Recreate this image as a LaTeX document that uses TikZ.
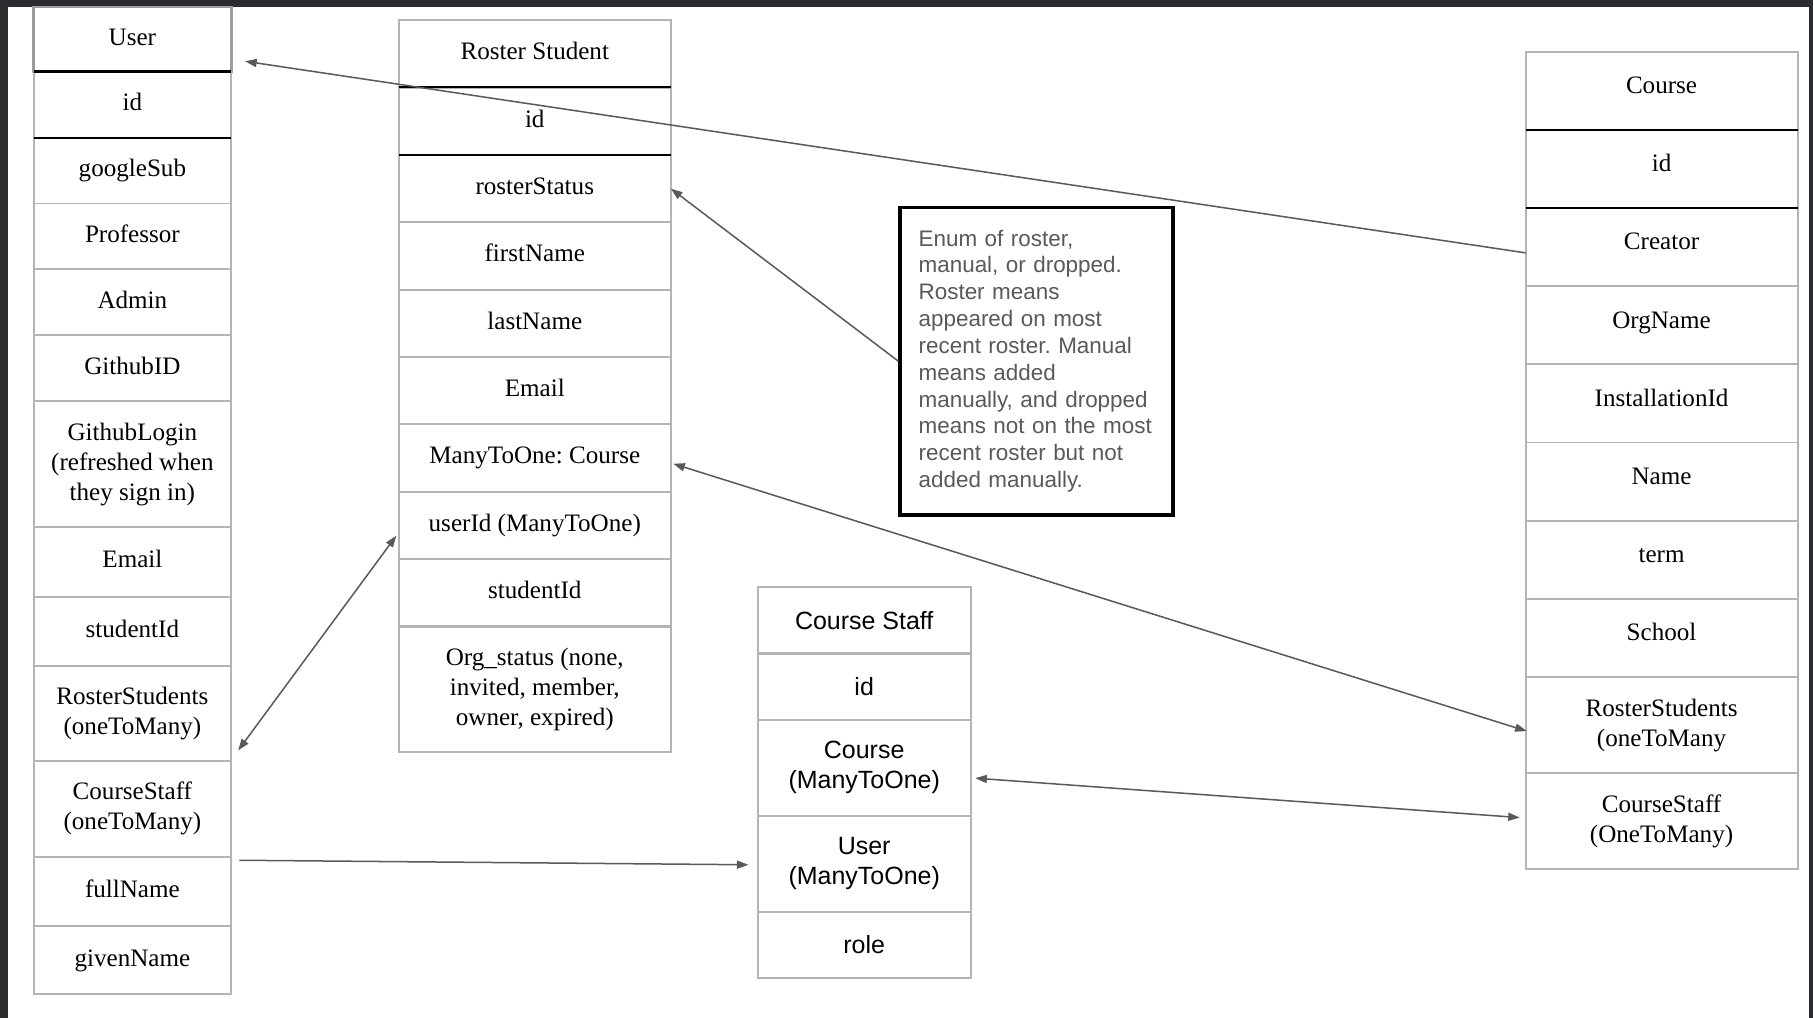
\documentclass[tikz,border=0pt]{standalone}
\usepackage{fontspec}
\setmainfont{Liberation Serif}
\setsansfont{Liberation Sans}
\usetikzlibrary{arrows.meta}
\definecolor{boxgray}{HTML}{B4B4B4}
\definecolor{headgray}{HTML}{9C9C9C}
\definecolor{linkgray}{HTML}{595959}
\definecolor{notegray}{HTML}{595959}
\definecolor{framedark}{HTML}{2C2C30}
\frenchspacing

\begin{document}
\begin{tikzpicture}[x=1pt, y=-1pt,
    field/.style ={rectangle, draw=boxgray, line width=1.7pt, inner sep=0pt, outer sep=0pt, align=center, font=\fontsize{21.7}{26}\selectfont},
    single/.style ={text height=15pt, text depth=5pt},
    userfield/.style ={field, minimum width=171pt, minimum height=57pt},
    rosterfield/.style ={field, minimum width=235.5pt, minimum height=58.2pt},
    stafffield/.style ={field, minimum width=184.2pt, minimum height=57pt, font=\sffamily\fontsize{21.6}{26}\selectfont},
    coursebase/.style ={field, minimum width=235.3pt, minimum height=67.6pt},
    coursefield/.style ={coursebase, text height=15pt, text depth=10pt},
    note/.style ={rectangle, draw=black, line width=3pt, minimum width=236.3pt, minimum height=266.1pt, text width=204pt, inner sep=0pt, align=left, text=notegray, font=\sffamily\fontsize{19.4}{23.2}\selectfont},
    keyline/.style ={black, line width=1.7pt},
    link/.style ={draw=linkgray, line width=1.3pt},
    >={Triangle[length=10pt,width=7pt]}]
   \useasboundingbox (0,0) rectangle (1568,880);
   \fill[framedark] (0,0) rectangle (1568,880);
   \fill[white] (6.6,6) rectangle (1564.5,880);

   \node[userfield, single, draw=headgray, line width=2.2pt, minimum height=56pt] (U0) at (114.5,34) {User};
   \node[userfield, single] (U1) at (114.5,90.5) {id};
   \node[userfield, single] (U2) at (114.5,147.5) {googleSub};
   \node[userfield, single] (U3) at (114.5,204.5) {Professor};
   \node[userfield, single] (U4) at (114.5,261.5) {Admin};
   \node[userfield, single] (U5) at (114.5,318.5) {GithubID};
   \node[userfield, minimum height=109pt] (U6) at (114.5,401.5) {GithubLogin\\(refreshed when\\they sign in)};
   \node[userfield, single, minimum height=60pt] (U7) at (114.5,486) {Email};
   \node[userfield, single, minimum height=60pt] (U8) at (114.5,546) {studentId};
   \node[userfield, minimum height=82pt] (U9) at (114.5,617) {RosterStudents\\(oneToMany)};
   \node[userfield, minimum height=83pt] (U10) at (114.5,699.5) {CourseStaff\\(oneToMany)};
   \node[userfield, single, minimum height=60pt] (U11) at (114.5,771) {fullName};
   \node[userfield, single, minimum height=59pt] (U12) at (114.5,830.5) {givenName};

   \node[rosterfield, single] (R0) at (462.5,46.5) {Roster Student};
   \node[rosterfield, single] (R1) at (462.5,104.9) {id};
   \node[rosterfield, single] (R2) at (462.5,163.2) {rosterStatus};
   \node[rosterfield, single] (R3) at (462.5,221.4) {firstName};
   \node[rosterfield, single] (R4) at (462.5,279.6) {lastName};
   \node[rosterfield, single] (R5) at (462.5,337.8) {Email};
   \node[rosterfield, single] (R6) at (462.5,396.1) {ManyToOne: Course};
   \node[rosterfield, single] (R7) at (462.5,454.3) {userId (ManyToOne)};
   \node[rosterfield, single] (R8) at (462.5,512.7) {studentId};
   \node[rosterfield, minimum height=108pt] (R9) at (462.5,596) {Org\_status (none,\\invited, member,\\owner, expired)};

   \node[stafffield] (S0) at (747.4,536.5) {Course Staff};
   \node[stafffield] (S1) at (747.4,593.9) {id};
   \node[stafffield, minimum height=82.7pt] (S2) at (747.4,664) {Course\\(ManyToOne)};
   \node[stafffield, minimum height=83pt] (S3) at (747.4,746.9) {User\\(ManyToOne)};
   \node[stafffield] (S4) at (747.4,817) {role};

   \node[coursefield] (C0) at (1437,78.5) {Course};
   \node[coursefield] (C1) at (1437,146.1) {id};
   \node[coursefield] (C2) at (1437,213.7) {Creator};
   \node[coursefield] (C3) at (1437,281.3) {OrgName};
   \node[coursefield] (C4) at (1437,348.9) {InstallationId};
   \node[coursefield] (C5) at (1437,416.5) {Name};
   \node[coursefield] (C6) at (1437,484.1) {term};
   \node[coursefield] (C7) at (1437,551.7) {School};
   \node[coursebase, minimum height=83pt] (C8) at (1437,627.3) {RosterStudents\\(oneToMany};
   \node[coursebase, minimum height=82.7pt] (C9) at (1437,710.1) {CourseStaff\\(OneToMany)};

   \node[note] (N) at (896.5,312.3) {Enum of roster,\\manual, or dropped.\\Roster means\\appeared on most\\recent roster. Manual\\means added\\manually, and dropped\\means not on the most\\recent roster but not\\added manually.};

   \draw[keyline, line width=3pt] (U0.south west) to (U0.south east);
   \draw[keyline] (U1.south west) to (U1.south east);
   \draw[keyline] (R0.south west) to (R0.south east);
   \draw[keyline] (R1.south west) to (R1.south east);
   \draw[keyline] (C0.south west) to (C0.south east);
   \draw[keyline] (C1.south west) to (C1.south east);

   \draw[link,->] ([yshift=-5pt]C2.west) to ([xshift=12pt,yshift=-19pt]U0.east);
   \draw[link,->] (N.west) to (R2.east);
   \draw[link,<->] ([xshift=2pt,yshift=-5pt]R6.east) to ([xshift=1pt,yshift=-5pt]C8.west);
   \draw[link,<->] ([xshift=-2pt,yshift=-9pt]R7.west) to ([xshift=6pt,yshift=9pt]U9.south east);
   \draw[link,->] ([xshift=7pt,yshift=-3pt]U10.south east) to ([xshift=-8pt,yshift=-1pt]S3.west);
   \draw[link,<->] ([xshift=4pt,yshift=-9pt]S2.east) to ([xshift=-5pt,yshift=3pt]C9.west);
 \end{tikzpicture}
\end{document}
